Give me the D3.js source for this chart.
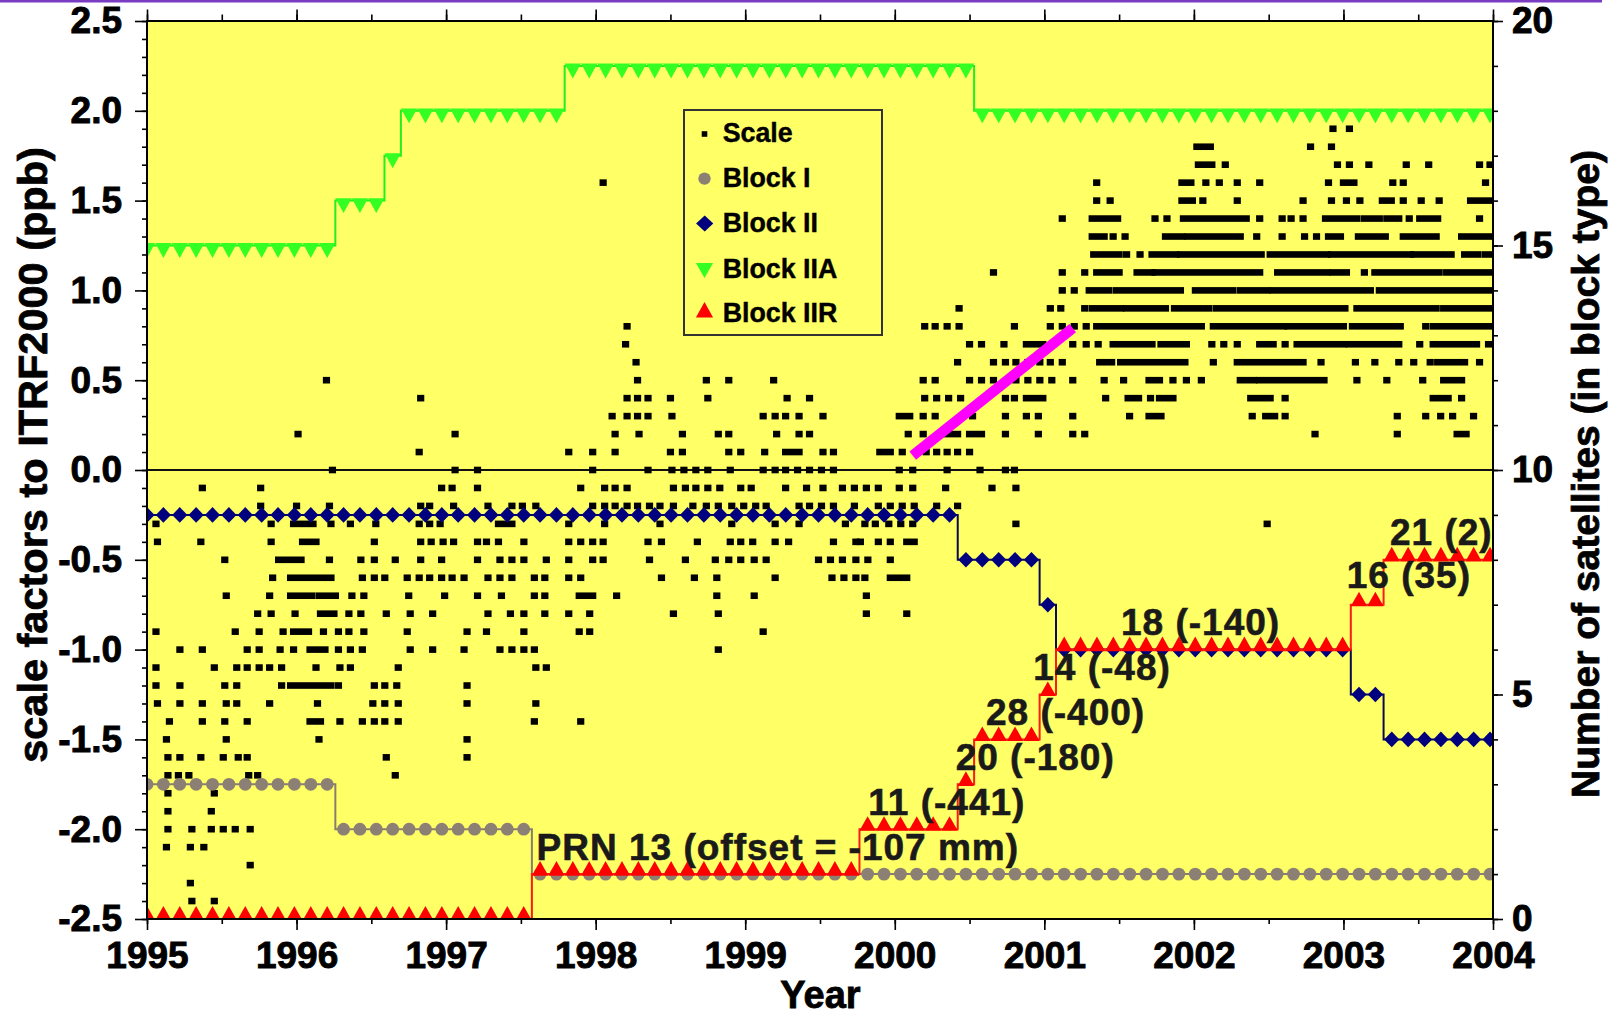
<!DOCTYPE html>
<html>
<head>
<meta charset="utf-8">
<script src="https://cdn.jsdelivr.net/npm/d3@7"></script>
<style>
  html, body { margin: 0; padding: 0; background: #ffffff; }
  svg { display: block; }
  text { font-family: "Liberation Sans", Arial, Helvetica, sans-serif; font-weight: bold; }
</style>
</head>
<body>
<svg id="chart" width="1618" height="1018"></svg>
<script>
// ---------------- DATA ----------------
const yearTicks = [1995, 1996, 1997, 1998, 1999, 2000, 2001, 2002, 2003, 2004];
const scaleTicks = [-2.5, -2.0, -1.5, -1.0, -0.5, 0.0, 0.5, 1.0, 1.5, 2.0, 2.5];
const satTicks = [0, 5, 10, 15, 20];

// 40-day sampling epochs of the satellite counts
const epochs = d3.range(83).map(k => 1995 + k * 40 / 365.25);

const blockI = [
  3,3,3,3,3,3,3,3,3,3,
  3,3,2,2,2,2,2,2,2,2,
  2,2,2,2,1,1,1,1,1,1,
  1,1,1,1,1,1,1,1,1,1,
  1,1,1,1,1,1,1,1,1,1,
  1,1,1,1,1,1,1,1,1,1,
  1,1,1,1,1,1,1,1,1,1,
  1,1,1,1,1,1,1,1,1,1,
  1,1,1
];
const blockII = [
  9,9,9,9,9,9,9,9,9,9,
  9,9,9,9,9,9,9,9,9,9,
  9,9,9,9,9,9,9,9,9,9,
  9,9,9,9,9,9,9,9,9,9,
  9,9,9,9,9,9,9,9,9,9,
  8,8,8,8,8,7,6,6,6,6,
  6,6,6,6,6,6,6,6,6,6,
  6,6,6,6,5,5,4,4,4,4,
  4,4,4
];
const blockIIA = [
  15,15,15,15,15,15,15,15,15,15,
  15,15,16,16,16,17,18,18,18,18,
  18,18,18,18,18,18,19,19,19,19,
  19,19,19,19,19,19,19,19,19,19,
  19,19,19,19,19,19,19,19,19,19,
  19,18,18,18,18,18,18,18,18,18,
  18,18,18,18,18,18,18,18,18,18,
  18,18,18,18,18,18,18,18,18,18,
  18,18,18
];
const blockIIR = [
  0,0,0,0,0,0,0,0,0,0,
  0,0,0,0,0,0,0,0,0,0,
  0,0,0,0,1,1,1,1,1,1,
  1,1,1,1,1,1,1,1,1,1,
  1,1,1,1,2,2,2,2,2,2,
  3,4,4,4,4,5,6,6,6,6,
  6,6,6,6,6,6,6,6,6,6,
  6,6,6,6,7,7,8,8,8,8,
  8,8,8
];

// Scale factors (ppb), by 0.1 ppb level: single epochs or [start, end] runs
const scaleRows = [
  [1.9, [2002.93, 2003.04]],
  [1.8, [[2002.02, 2002.11], 2002.78, 2002.92]],
  [1.7, [[2002.03, 2002.12], 2002.21, 2002.96, 2003.04, 2003.17, 2003.42, 2003.57, 2003.91, 2003.98]],
  [1.6, [1998.05, 2001.35, [2001.92, 2001.98], 2002.08, 2002.17, 2002.29, 2002.44, 2002.90, [2003.00, 2003.07], 2003.33, 2003.40, 2003.95]],
  [1.5, [2001.35, 2001.44, [2001.92, 2001.99], 2002.06, 2002.29, 2002.73, 2002.92, 2003.02, 2003.11, [2003.26, 2003.32], 2003.40, 2003.52, 2003.64, [2003.85, 2004.0]]],
  [1.4, [2001.12, [2001.32, 2001.49], 2001.74, 2001.82, [2001.93, 2002.35], 2002.44, 2002.59, 2002.65, 2002.73, [2002.88, 2003.09], [2003.14, 2003.24], [2003.29, 2003.37], 2003.44, [2003.51, 2003.63], 2003.91]],
  [1.3, [[2001.32, 2001.40], 2001.46, 2001.54, [2001.81, 2001.92], [2001.96, 2002.31], 2002.42, 2002.59, 2002.74, 2002.82, [2002.90, 2002.98], [2003.10, 2003.28], [2003.40, 2003.62], [2003.79, 2004.0]]],
  [1.2, [[2001.33, 2001.50], 2001.55, 2001.64, [2001.72, 2001.88], [2001.91, 2002.45], [2002.51, 2002.89], [2002.92, 2003.45], [2003.47, 2003.72], [2003.81, 2003.90], [2003.95, 2004.0]]],
  [1.1, [2000.66, 2001.12, 2001.27, [2001.35, 2001.50], [2001.62, 2001.72], [2001.74, 2002.44], [2002.56, 2002.89], [2002.93, 2003.02], 2003.14, [2003.21, 2003.64], [2003.69, 2004.0]]],
  [1.0, [2001.12, 2001.20, [2001.30, 2001.43], [2001.48, 2001.91], [2002.01, 2002.26], [2002.31, 2002.49], [2002.53, 2003.18], [2003.24, 2003.97]]],
  [0.9, [2000.43, 2001.04, 2001.11, 2001.27, [2001.32, 2001.51], [2001.55, 2001.81], [2001.87, 2002.10], [2002.15, 2003.01], [2003.09, 2003.62], [2003.67, 2004.0]]],
  [0.8, [1998.21, 2000.20, 2000.27, 2000.35, 2000.43, 2000.80, 2001.04, 2001.12, 2001.20, 2001.28, [2001.35, 2002.05], [2002.13, 2002.60], [2002.63, 2003.00], [2003.06, 2003.38], 2003.55, [2003.60, 2004.0]]],
  [0.7, [1998.20, 2000.50, 2000.58, 2000.73, [2000.88, 2000.99], 2001.19, 2001.28, 2001.36, [2001.46, 2001.72], [2001.78, 2001.95], 2002.12, 2002.20, 2002.29, [2002.44, 2002.53], 2002.61, [2002.69, 2003.00], [2003.04, 2003.37], 2003.51, [2003.60, 2003.89], 2003.97]],
  [0.6, [1998.27, 2000.42, 2000.66, 2000.74, 2000.81, 2000.89, 2000.97, 2001.04, 2001.12, [2001.37, 2001.45], [2001.51, 2001.94], 2002.13, [2002.29, 2002.73], 2002.85, 2003.08, 2003.21, 2003.37, 2003.47, 2003.58, [2003.63, 2003.81], 2003.91]],
  [0.5, [1996.20, 1998.28, 1998.74, 1998.89, 1999.19, 2000.19, 2000.27, 2000.50, 2000.58, 2000.66, 2000.81, 2000.89, 2000.97, 2001.05, 2001.19, 2001.40, 2001.53, [2001.70, 2001.77], 2001.86, 2001.95, 2002.05, [2002.31, 2002.40], [2002.44, 2002.87], 2003.09, 2003.29, 2003.53, [2003.67, 2003.79]]],
  [0.4, [1996.83, 1998.21, 1998.28, 1998.35, 1998.50, 1998.75, 1999.28, 1999.43, 2000.20, 2000.28, 2000.36, 2000.44, 2000.74, 2000.80, [2000.88, 2000.99], 2001.41, [2001.56, 2001.63], 2001.71, [2001.77, 2001.86], [2002.38, 2002.51], 2002.61, [2003.60, 2003.70], 2003.79]],
  [0.3, [1998.11, 1998.21, 1998.28, 1998.35, 1998.51, 1999.12, 1999.20, 1999.27, 1999.36, 1999.52, [2000.03, 2000.10], 2000.19, 2000.27, 2000.52, 2000.74, 2000.88, 2000.96, 2001.19, 2001.57, [2001.70, 2001.78], 2002.39, [2002.48, 2002.54], 2002.61, 2003.36, 2003.55, 2003.65, 2003.73, 2003.87]],
  [0.2, [1996.01, 1997.06, 1998.13, 1998.29, 1998.58, 1998.82, 1998.89, 1999.21, 1999.36, 1999.43, 2000.09, 2000.19, [2000.34, 2000.42], [2000.50, 2000.58], 2000.74, 2000.96, 2001.19, 2001.27, 2002.81, 2003.36, [2003.76, 2003.82]]],
  [0.1, [1996.82, 1997.82, 1997.98, 1998.13, 1998.50, 1998.58, 1998.89, 1998.97, 1999.13, [1999.27, 1999.36], 1999.52, 1999.59, [1999.90, 1999.97], 2000.05, 2000.21, 2000.28, 2000.35, 2000.42, 2000.50]],
  [0.0, [1996.24, 1997.06, 1997.21, 1997.98, 1998.35, 1998.51, 1998.59, 1998.67, 1998.75, 1998.90, 1999.12, 1999.20, 1999.27, 1999.35, 1999.43, 1999.51, 1999.59, 2000.03, 2000.12, 2000.35, 2000.57, 2000.74, 2000.80]],
  [-0.1, [1995.37, 1995.76, 1996.97, 1997.04, 1997.21, 1997.90, 1998.06, 1998.13, 1998.21, 1998.52, 1998.60, 1998.67, 1998.75, 1998.83, 1998.97, 1999.04, 1999.27, 1999.41, 1999.52, 1999.65, 1999.73, 1999.81, 1999.89, 2000.03, 2000.12, 2000.34, 2000.65, 2000.81]],
  [-0.2, [1995.76, 1996.00, 1996.22, 1996.83, 1996.89, 1997.05, 1997.28, 1997.44, 1997.51, 1997.60, 1997.98, 1998.06, 1998.13, 1998.21, 1998.28, 1998.36, 1998.43, 1998.52, 1998.65, 1998.74, 1998.82, 1998.91, 1998.99, 1999.07, 1999.14, 1999.36, 1999.43, 1999.51, 1999.59, 1999.73, 1999.89, 1999.97, 2000.05, 2000.13, 2000.28, 2000.42]],
  [-0.3, [1995.06, 1995.83, [1995.98, 1996.11], 1996.23, 1996.36, 1996.53, 1996.82, 1996.89, 1996.96, [1997.35, 1997.44], 1997.82, 1998.06, 1998.43, 1998.91, 1999.20, 1999.36, 1999.67, 1999.80, 1999.87, 1999.96, 2000.04, 2000.12, 2000.81, 2002.49]],
  [-0.4, [1995.07, 1995.36, 1995.83, [1996.04, 1996.13], 1996.52, 1996.83, 1996.90, 1996.98, 1997.05, 1997.21, 1997.27, 1997.35, 1997.52, 1997.82, 1997.90, 1997.98, 1998.05, 1998.35, 1998.44, 1998.68, 1998.90, 1998.97, 1999.05, 1999.20, 1999.29, 1999.59, 1999.74, 1999.77, 1999.89, 1999.97, [2000.08, 2000.13]]],
  [-0.5, [1995.52, [1995.88, 1996.03], 1996.22, 1996.43, 1996.52, 1996.66, 1996.83, 1996.97, 1997.21, 1997.36, 1997.44, 1997.52, 1997.67, 1997.82, 1997.98, 1998.05, 1998.36, 1998.60, 1998.80, 1998.89, 1998.97, 1999.06, 1999.14, 1999.49, 1999.57, 1999.65, 1999.74, 1999.82, 1999.97]],
  [-0.6, [1995.84, [1995.96, 1996.23], 1996.44, 1996.52, 1996.59, 1996.74, 1996.82, 1996.89, 1996.97, 1997.04, 1997.12, 1997.28, 1997.36, 1997.44, 1997.59, 1997.66, 1997.82, 1997.90, 1998.44, 1998.66, 1998.81, 1999.20, 1999.58, 1999.66, 1999.74, 1999.80, [1999.97, 2000.08]]],
  [-0.7, [1995.53, 1995.82, [1995.96, 1996.10], [1996.15, 1996.26], 1996.37, 1996.45, 1996.75, 1996.99, 1997.21, 1997.37, 1997.59, 1997.66, [1997.89, 1997.98], 1998.14, 1998.81, 1999.06, 1999.81]],
  [-0.8, [1995.74, 1995.83, 1995.99, [1996.16, 1996.25], 1996.35, 1996.43, 1996.60, 1996.76, 1996.91, 1997.28, 1997.43, 1997.52, 1997.66, 1997.82, 1997.96, 1998.52, 1998.82, 1999.81, 2000.08]],
  [-0.9, [1995.06, 1995.59, 1995.75, 1995.91, [1995.98, 1996.08], 1996.18, 1996.28, 1996.35, 1996.45, 1996.74, 1997.14, 1997.27, 1997.52, 1997.89, 1997.96, 1999.12]],
  [-1.0, [1995.22, 1995.37, 1995.67, 1995.75, 1995.89, 1995.98, [1996.09, 1996.19], 1996.28, 1996.36, 1996.44, 1996.76, 1996.91, 1997.12, 1997.36, 1997.44, 1997.52, 1997.59, 1998.82]],
  [-1.1, [1995.06, 1995.45, 1995.60, 1995.67, 1995.75, 1995.82, 1995.90, 1996.13, 1996.29, 1996.36, 1996.68, 1997.60, 1997.67]],
  [-1.2, [1995.06, 1995.22, 1995.52, 1995.60, 1995.90, [1995.96, 1996.23], 1996.28, 1996.52, 1996.59, 1996.67, 1997.14]],
  [-1.3, [1995.07, 1995.22, 1995.37, 1995.53, 1995.60, 1995.82, 1996.14, 1996.51, 1996.59, 1996.68, 1997.14, 1997.60]],
  [-1.4, [1995.15, 1995.37, 1995.52, 1995.67, [1996.09, 1996.16], 1996.29, 1996.44, 1996.52, 1996.59, 1996.68, 1997.59, 1997.90]],
  [-1.5, [1995.13, 1995.53, 1996.15, 1997.14]],
  [-1.6, [1995.14, 1995.22, 1995.36, 1995.51, 1995.61, 1995.67, 1996.60, 1997.14]],
  [-1.7, [1995.14, 1995.21, 1995.28, 1995.68, 1995.74, 1996.66]],
  [-1.8, [1995.14, 1995.45]],
  [-1.9, [1995.14, 1995.43]],
  [-2.0, [1995.14, 1995.30, 1995.43, 1995.51, 1995.59, 1995.69]],
  [-2.1, [1995.13, 1995.29, 1995.38]],
  [-2.2, [1995.69]],
  [-2.3, [1995.29]],
  [-2.4, [1995.30, 1995.45]]
];

// highlighted trend (year, ppb)
const trendLine = [[2000.12, 0.08], [2001.19, 0.79]];

// Block IIR satellite annotations: text, anchor year, anchor satellite count
const prnLabels = ["PRN 13 (offset = -107 mm)", "11 (-441)", "20 (-180)", "28 (-400)", "14 (-48)", "18 (-140)", "16 (35)", "21 (2)"];
const prnYears  = [1997.605, 1999.823, 2000.407, 2000.610, 2000.926, 2001.513, 2003.022, 2003.311];
const prnCounts = [1.31, 2.32, 3.32, 4.32, 5.32, 6.33, 7.37, 8.33];

const legendNames = ["Scale", "Block I", "Block II", "Block IIA", "Block IIR"];

// ---------------- CHART ----------------
const svg = d3.select("#chart");
const L = 147, R = 1493, T = 21, B = 919;

const x = d3.scaleLinear().domain([1995, 2004]).range([L, R]);
const yL = d3.scaleLinear().domain([-2.5, 2.5]).range([B, T]);
const yR = d3.scaleLinear().domain([0, 20]).range([B, T]);

// purple rule at top
svg.append("rect").attr("x", 0).attr("y", 0).attr("width", 1602).attr("height", 2.5).attr("fill", "#7b3cc4");

// plot background
svg.append("rect").attr("x", L).attr("y", T).attr("width", R - L).attr("height", B - T).attr("fill", "#ffff66");

svg.append("defs").append("clipPath").attr("id", "plotclip")
  .append("rect").attr("x", L).attr("y", T).attr("width", R - L).attr("height", B - T);

const plot = svg.append("g").attr("clip-path", "url(#plotclip)");

// zero line
plot.append("line").attr("x1", L).attr("x2", R).attr("y1", yL(0)).attr("y2", yL(0))
  .attr("stroke", "#111").attr("stroke-width", 1.8);

// scale dots
const dotW = 7.2, dotH = 6.6;
const dots = [];
scaleRows.forEach(([v, list]) => list.forEach(e => {
  const a = Array.isArray(e) ? e[0] : e;
  const b = Array.isArray(e) ? e[1] : e;
  dots.push({ v, a, b });
}));
plot.append("g").selectAll("rect").data(dots).join("rect")
  .attr("x", d => x(d.a) - dotW / 2)
  .attr("width", d => x(d.b) - x(d.a) + dotW)
  .attr("y", d => yL(d.v) - dotH / 2)
  .attr("height", dotH)
  .attr("fill", "#000");

// step series
const series = [
  { vals: blockI, line: "#8a7c70", fill: "#8c7f73", shape: "circle" },
  { vals: blockII, line: "#0a0a50", fill: "#00007f", shape: "diamond" },
  { vals: blockIIA, line: "#22ee22", fill: "#33ff22", shape: "down" },
  { vals: blockIIR, line: "#ff1a1a", fill: "#ff0000", shape: "up" }
];
const shapePath = {
  diamond: "M0,-7.8 L7.6,0 L0,7.8 L-7.6,0 Z",
  down: "M-8.2,-2.4 L8.2,-2.4 L0,12.5 Z",
  up: "M-8.2,1.6 L8.2,1.6 L0,-13 Z"
};
const stepLine = d3.line().curve(d3.curveStep).x(d => x(d[0])).y(d => yR(d[1]));
series.forEach(s => {
  const pts = epochs.map((t, k) => [t, s.vals[k]]);
  const g = plot.append("g");
  g.append("path").attr("d", stepLine(pts)).attr("fill", "none")
    .attr("stroke", s.line).attr("stroke-width", 2);
  if (s.shape === "circle") {
    g.selectAll("circle").data(pts).join("circle")
      .attr("cx", d => x(d[0])).attr("cy", d => yR(d[1])).attr("r", 6.4).attr("fill", s.fill);
  } else {
    g.selectAll("path.m").data(pts).join("path").attr("class", "m")
      .attr("transform", d => `translate(${x(d[0])},${yR(d[1])})`)
      .attr("d", shapePath[s.shape]).attr("fill", s.fill);
  }
});

// magenta trend line
plot.append("line")
  .attr("x1", x(trendLine[0][0])).attr("y1", yL(trendLine[0][1]))
  .attr("x2", x(trendLine[1][0])).attr("y2", yL(trendLine[1][1]))
  .attr("stroke", "#ff00ff").attr("stroke-width", 10.5);

// PRN annotations
svg.append("g").selectAll("text").data(prnLabels).join("text")
  .attr("x", (d, i) => x(prnYears[i])).attr("y", (d, i) => yR(prnCounts[i]))
  .attr("font-size", 37).attr("letter-spacing", 1).attr("fill", "#1a1a1a")
  .attr("stroke", "#1a1a1a").attr("stroke-width", 0.6)
  .text(d => d);

// legend
const lg = svg.append("g");
lg.append("rect").attr("x", 684).attr("y", 110).attr("width", 198).attr("height", 225)
  .attr("fill", "none").attr("stroke", "#333").attr("stroke-width", 2);
const legY = [134, 178.6, 223.5, 270, 310];
const legBase = [141.7, 186.7, 232, 277.7, 321.7];
lg.append("rect").attr("x", 704.5 - 2.8).attr("y", legY[0] - 2.8).attr("width", 5.6).attr("height", 5.6).attr("fill", "#000");
lg.append("circle").attr("cx", 704.5).attr("cy", legY[1]).attr("r", 6.2).attr("fill", "#8c7f73");
lg.append("path").attr("transform", `translate(704.7,${legY[2]})`).attr("d", "M0,-8 L8.6,0 L0,8 L-8.6,0 Z").attr("fill", "#00007f");
lg.append("path").attr("transform", `translate(704.5,${legY[3]})`).attr("d", "M-8.6,-7 L8.6,-7 L0,8 Z").attr("fill", "#33ff22");
lg.append("path").attr("transform", `translate(704.5,${legY[4]})`).attr("d", "M-8.6,7.5 L8.6,7.5 L0,-8 Z").attr("fill", "#ff0000");
lg.selectAll("text.lt").data(legendNames).join("text").attr("class", "lt")
  .attr("x", 722.7).attr("y", (d, i) => legBase[i]).attr("font-size", 26.8).attr("fill", "#000")
  .attr("stroke", "#000").attr("stroke-width", 0.4)
  .text(d => d);

// frame
svg.append("rect").attr("x", L).attr("y", T).attr("width", R - L).attr("height", B - T)
  .attr("fill", "none").attr("stroke", "#000").attr("stroke-width", 2);

// axes
function styleAxis(g, fs) {
  g.select(".domain").remove();
  g.selectAll("line").attr("stroke", "#000").attr("stroke-width", 1.6);
  g.selectAll("text").attr("font-size", fs).attr("fill", "#000")
    .attr("stroke", "#000").attr("stroke-width", 0.9)
    .attr("font-family", '"Liberation Sans", Arial, Helvetica, sans-serif').attr("font-weight", "bold");
}
const minorScale = d3.range(-25, 26).map(i => i / 10);
const minorSat = d3.range(0, 21);
const halfYears = d3.range(0, 19).map(i => 1995 + i / 2);

// left
svg.append("g").attr("transform", `translate(${L},0)`)
  .call(d3.axisLeft(yL).tickValues(minorScale).tickSize(5).tickFormat("")).call(g => styleAxis(g, 0));
svg.append("g").attr("transform", `translate(${L},0)`)
  .call(d3.axisLeft(yL).tickValues(scaleTicks).tickSize(12).tickPadding(13).tickFormat(d => d.toFixed(1)))
  .call(g => styleAxis(g, 37));
// right
svg.append("g").attr("transform", `translate(${R},0)`)
  .call(d3.axisRight(yR).tickValues(minorSat).tickSize(5).tickFormat("")).call(g => styleAxis(g, 0));
svg.append("g").attr("transform", `translate(${R},0)`)
  .call(d3.axisRight(yR).tickValues(satTicks).tickSize(10).tickPadding(9).tickFormat(d => String(d)))
  .call(g => styleAxis(g, 37));
// bottom
svg.append("g").attr("transform", `translate(0,${B})`)
  .call(d3.axisBottom(x).tickValues(halfYears).tickSize(5).tickFormat("")).call(g => styleAxis(g, 0));
svg.append("g").attr("transform", `translate(0,${B})`)
  .call(d3.axisBottom(x).tickValues(yearTicks).tickSize(11).tickPadding(12).tickFormat(d => String(d)))
  .call(g => styleAxis(g, 37));
// top
svg.append("g").attr("transform", `translate(0,${T})`)
  .call(d3.axisTop(x).tickValues(halfYears).tickSize(6.5).tickFormat("")).call(g => styleAxis(g, 0));
svg.append("g").attr("transform", `translate(0,${T})`)
  .call(d3.axisTop(x).tickValues(yearTicks).tickSize(11.5).tickFormat("")).call(g => styleAxis(g, 0));

// axis titles
svg.append("text").attr("transform", "translate(47,455) rotate(-90)").attr("text-anchor", "middle")
  .attr("font-size", 41.5).attr("fill", "#000").attr("stroke", "#000").attr("stroke-width", 0.8)
  .text("scale factors to ITRF2000 (ppb)");
svg.append("text").attr("transform", "translate(1598.5,474) rotate(-90)").attr("text-anchor", "middle")
  .attr("font-size", 39).attr("fill", "#000").attr("stroke", "#000").attr("stroke-width", 0.8)
  .text("Number of satellites (in block type)");
svg.append("text").attr("x", 820.5).attr("y", 1008).attr("text-anchor", "middle")
  .attr("font-size", 38).attr("fill", "#000").attr("stroke", "#000").attr("stroke-width", 0.8)
  .text("Year");
</script>
</body>
</html>
